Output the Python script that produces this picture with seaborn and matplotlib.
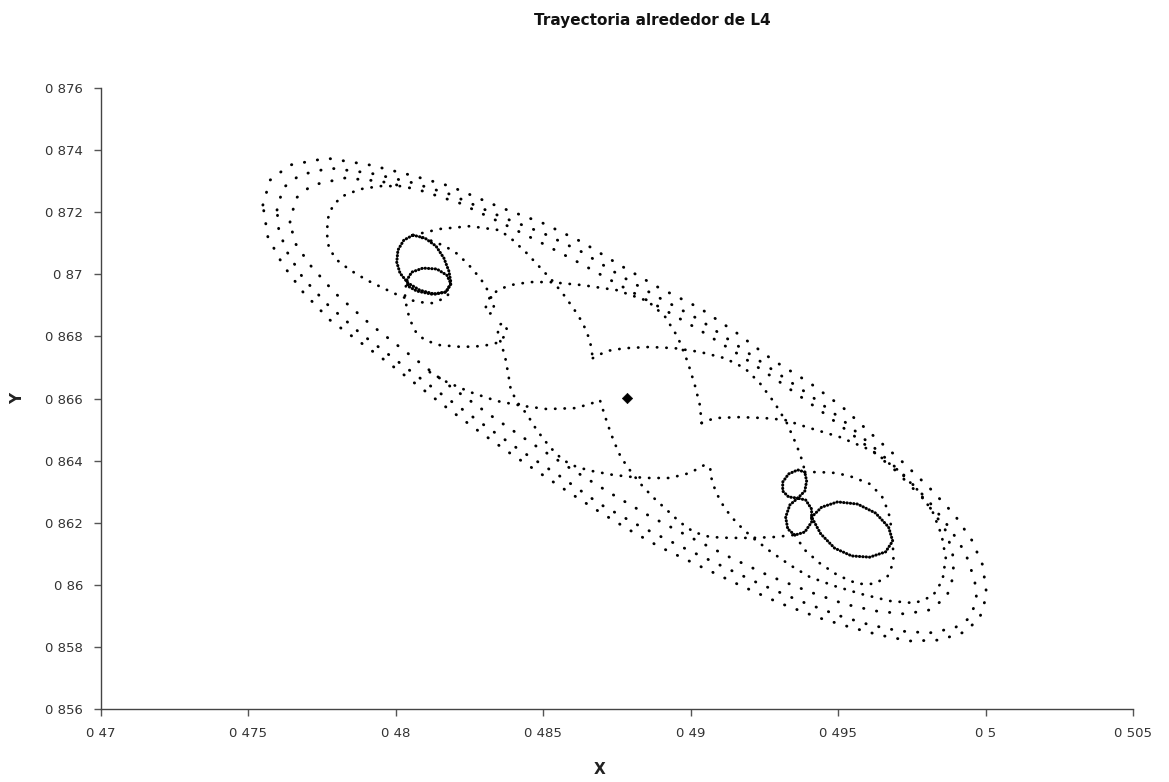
import matplotlib
matplotlib.use("Agg")
import matplotlib.pyplot as plt
import seaborn as sns

# ---------------- data (x, y in chart units) ----------------
e1_x = [0.47549, 0.47573, 0.47641, 0.47766, 0.47912, 0.48048, 0.48183, 0.48353, 0.48498, 0.48631,
        0.48759, 0.48888, 0.49031, 0.49156, 0.49278, 0.49404, 0.49515, 0.49624, 0.49719, 0.49810,
        0.49895, 0.49953, 0.49990, 0.50004, 0.49980, 0.49929, 0.49844, 0.49743, 0.49641, 0.49539,
        0.49437, 0.49302, 0.49166, 0.49031, 0.48895, 0.48793, 0.48692, 0.48590, 0.48488, 0.48387,
        0.48285, 0.48183, 0.48081, 0.47980, 0.47878, 0.47776, 0.47685, 0.47617, 0.47566, 0.47549]
e1_y = [0.87223, 0.87303, 0.87352, 0.87374, 0.87352, 0.87320, 0.87284, 0.87216, 0.87165, 0.87104,
        0.87030, 0.86959, 0.86891, 0.86811, 0.86724, 0.86650, 0.86572, 0.86476, 0.86395, 0.86312,
        0.86225, 0.86144, 0.86064, 0.85967, 0.85893, 0.85848, 0.85822, 0.85819, 0.85838, 0.85864,
        0.85893, 0.85941, 0.85999, 0.86060, 0.86122, 0.86176, 0.86234, 0.86296, 0.86360, 0.86424,
        0.86492, 0.86563, 0.86637, 0.86711, 0.86782, 0.86853, 0.86943, 0.87030, 0.87120, 0.87223]

e2_x = [0.47597, 0.47617, 0.47675, 0.47776, 0.47912, 0.48048, 0.48183, 0.48353, 0.48498, 0.48631,
        0.48759, 0.48888, 0.49031, 0.49156, 0.49278, 0.49404, 0.49515, 0.49624, 0.49719, 0.49804,
        0.49878, 0.49932, 0.49963, 0.49970, 0.49946, 0.49895, 0.49810, 0.49709, 0.49607, 0.49505,
        0.49370, 0.49234, 0.49098, 0.48963, 0.48827, 0.48692, 0.48556, 0.48420, 0.48285, 0.48149,
        0.48014, 0.47878, 0.47770, 0.47685, 0.47631, 0.47603, 0.47597]
e2_y = [0.87207, 0.87278, 0.87320, 0.87342, 0.87326, 0.87297, 0.87258, 0.87187, 0.87133, 0.87072,
        0.86997, 0.86927, 0.86853, 0.86772, 0.86692, 0.86611, 0.86531, 0.86440, 0.86357, 0.86273,
        0.86183, 0.86102, 0.86015, 0.85951, 0.85893, 0.85861, 0.85845, 0.85851, 0.85871, 0.85900,
        0.85948, 0.86003, 0.86064, 0.86125, 0.86189, 0.86260, 0.86350, 0.86434, 0.86524, 0.86618,
        0.86714, 0.86811, 0.86901, 0.86988, 0.87072, 0.87142, 0.87207]

e3_x = [0.47641, 0.47661, 0.47715, 0.47827, 0.47946, 0.48081, 0.48217, 0.48353, 0.48488, 0.48624,
        0.48759, 0.48895, 0.49031, 0.49166, 0.49302, 0.49437, 0.49573, 0.49692, 0.49793, 0.49861,
        0.49888, 0.49892, 0.49868, 0.49810, 0.49726, 0.49624, 0.49522, 0.49404, 0.49268, 0.49132,
        0.48997, 0.48861, 0.48726, 0.48590, 0.48454, 0.48319, 0.48183, 0.48048, 0.47912, 0.47793,
        0.47709, 0.47658, 0.47641]
e3_y = [0.87168, 0.87245, 0.87287, 0.87310, 0.87300, 0.87271, 0.87229, 0.87168, 0.87104, 0.87036,
        0.86965, 0.86894, 0.86820, 0.86740, 0.86653, 0.86563, 0.86466, 0.86370, 0.86273, 0.86183,
        0.86106, 0.86031, 0.85961, 0.85919, 0.85906, 0.85916, 0.85938, 0.85977, 0.86028, 0.86089,
        0.86154, 0.86221, 0.86296, 0.86376, 0.86460, 0.86547, 0.86640, 0.86740, 0.86840, 0.86940,
        0.87030, 0.87101, 0.87168]

arc_g_x = [0.48014, 0.47946, 0.47878, 0.47820, 0.47787, 0.47770, 0.47766, 0.47773, 0.47800, 0.47844,
           0.47902, 0.47956, 0.48014, 0.48071, 0.48126, 0.48173, 0.48190]
arc_g_y = [0.87284, 0.87284, 0.87274, 0.87252, 0.87223, 0.87181, 0.87133, 0.87084, 0.87046, 0.87014,
           0.86981, 0.86956, 0.86930, 0.86911, 0.86907, 0.86927, 0.86959]

loop_big_x = [0.48058, 0.48098, 0.48136, 0.48163, 0.48180, 0.48187, 0.48170, 0.48132, 0.48081, 0.48041,
              0.48014, 0.48003, 0.48007, 0.48027, 0.48058]
loop_big_y = [0.87126, 0.87117, 0.87091, 0.87052, 0.87010, 0.86972, 0.86943, 0.86936, 0.86949, 0.86972,
              0.87004, 0.87039, 0.87078, 0.87110, 0.87126]

loop_in_x = [0.48037, 0.48054, 0.48092, 0.48139, 0.48173, 0.48187, 0.48170, 0.48122, 0.48071, 0.48041, 0.48037]
loop_in_y = [0.86981, 0.87007, 0.87020, 0.87017, 0.86997, 0.86969, 0.86943, 0.86936, 0.86946, 0.86962, 0.86981]

exit_x = [0.48034, 0.48031, 0.48037, 0.48048, 0.48068, 0.48098, 0.48149, 0.48224, 0.48295, 0.48342,
          0.48366, 0.48376, 0.48366, 0.48349, 0.48346, 0.48356, 0.48370, 0.48380, 0.48390, 0.48414,
          0.48444, 0.48478, 0.48522, 0.48566, 0.48614, 0.48668, 0.48736, 0.48804, 0.48861, 0.48929,
          0.48997, 0.49041, 0.49065]
exit_y = [0.86962, 0.86930, 0.86891, 0.86853, 0.86814, 0.86788, 0.86772, 0.86766, 0.86769, 0.86779,
          0.86798, 0.86824, 0.86843, 0.86837, 0.86811, 0.86779, 0.86737, 0.86685, 0.86627, 0.86585,
          0.86550, 0.86498, 0.86444, 0.86402, 0.86379, 0.86366, 0.86354, 0.86347, 0.86344, 0.86344,
          0.86360, 0.86383, 0.86395]

ring_x = [0.49037, 0.49081, 0.49166, 0.49251, 0.49319, 0.49393, 0.49505, 0.49617, 0.49702, 0.49770,
          0.49821, 0.49851, 0.49865, 0.49854, 0.49821, 0.49760, 0.49675, 0.49580, 0.49488, 0.49404,
          0.49336, 0.49268, 0.49207, 0.49156, 0.49115, 0.49085, 0.49068, 0.49065]
ring_y = [0.86521, 0.86537, 0.86540, 0.86537, 0.86531, 0.86508, 0.86476, 0.86431, 0.86370, 0.86305,
          0.86234, 0.86160, 0.86086, 0.86015, 0.85964, 0.85941, 0.85948, 0.85970, 0.85996, 0.86025,
          0.86064, 0.86109, 0.86154, 0.86199, 0.86247, 0.86299, 0.86350, 0.86395]

path_i_x = [0.48058, 0.48115, 0.48166, 0.48210, 0.48251, 0.48288, 0.48315, 0.48332, 0.48332, 0.48315,
            0.48305, 0.48319, 0.48346, 0.48387, 0.48454, 0.48522, 0.48634, 0.48749, 0.48854, 0.48912,
            0.48956, 0.48990, 0.49014, 0.49031, 0.49037]
path_i_y = [0.87126, 0.87110, 0.87091, 0.87065, 0.87026, 0.86985, 0.86943, 0.86904, 0.86878, 0.86872,
            0.86894, 0.86927, 0.86949, 0.86965, 0.86975, 0.86975, 0.86965, 0.86949, 0.86914, 0.86865,
            0.86798, 0.86717, 0.86643, 0.86579, 0.86521]

path_j_x = [0.48058, 0.48149, 0.48251, 0.48353, 0.48397, 0.48444, 0.48488, 0.48532, 0.48570, 0.48604,
            0.48634, 0.48658, 0.48668]
path_j_y = [0.87126, 0.87146, 0.87155, 0.87142, 0.87110, 0.87068, 0.87023, 0.86978, 0.86933, 0.86888,
            0.86843, 0.86788, 0.86730]

path_h_x = [0.48668, 0.48715, 0.48776, 0.48861, 0.48946, 0.49031, 0.49115, 0.49183, 0.49234, 0.49285,
            0.49326, 0.49359, 0.49380, 0.49387]
path_h_y = [0.86730, 0.86753, 0.86762, 0.86766, 0.86762, 0.86750, 0.86730, 0.86698, 0.86650, 0.86585,
            0.86521, 0.86450, 0.86395, 0.86363]

path_c3_x = [0.48115, 0.48173, 0.48251, 0.48342, 0.48431, 0.48512, 0.48607, 0.48658, 0.48692, 0.48705,
             0.48719, 0.48739, 0.48763, 0.48793, 0.48827, 0.48871, 0.48919, 0.48963, 0.49010, 0.49065,
             0.49132, 0.49210, 0.49285, 0.49346]
path_c3_y = [0.86685, 0.86653, 0.86621, 0.86592, 0.86576, 0.86566, 0.86569, 0.86582, 0.86595, 0.86556,
             0.86515, 0.86463, 0.86411, 0.86370, 0.86328, 0.86283, 0.86241, 0.86202, 0.86170, 0.86154,
             0.86151, 0.86151, 0.86154, 0.86160]

loop_a_x = [0.49387, 0.49363, 0.49332, 0.49312, 0.49312, 0.49332, 0.49363, 0.49387, 0.49393, 0.49387]
loop_a_y = [0.86363, 0.86370, 0.86357, 0.86331, 0.86302, 0.86283, 0.86279, 0.86302, 0.86334, 0.86363]

loop_b_x = [0.49363, 0.49336, 0.49322, 0.49329, 0.49353, 0.49387, 0.49410, 0.49410, 0.49390, 0.49363]
loop_b_y = [0.86279, 0.86257, 0.86218, 0.86180, 0.86160, 0.86170, 0.86202, 0.86244, 0.86273, 0.86279]

loop_c_x = [0.49410, 0.49444, 0.49498, 0.49566, 0.49627, 0.49671, 0.49685, 0.49661, 0.49607, 0.49546,
            0.49488, 0.49441, 0.49410]
loop_c_y = [0.86218, 0.86250, 0.86267, 0.86260, 0.86231, 0.86186, 0.86141, 0.86106, 0.86089, 0.86093,
            0.86118, 0.86164, 0.86218]

lobe_x = [0.49353, 0.49387, 0.49437, 0.49498, 0.49566, 0.49624, 0.49668, 0.49688, 0.49685]
lobe_y = [0.86160, 0.86112, 0.86070, 0.86031, 0.86003, 0.86003, 0.86028, 0.86073, 0.86141]

bridge_x = [0.49387, 0.49437, 0.49495, 0.49549, 0.49607, 0.49648, 0.49671, 0.49682]
bridge_y = [0.86363, 0.86363, 0.86360, 0.86347, 0.86325, 0.86286, 0.86234, 0.86176]

l4_x = [0.48785]
l4_y = [0.86603]

x_ticks = [0.47, 0.475, 0.48, 0.485, 0.49, 0.495, 0.50, 0.505]
x_tick_labels = ["0 47", "0 475", "0 48", "0 485", "0 49", "0 495", "0 5", "0 505"]
y_ticks = [0.856, 0.858, 0.860, 0.862, 0.864, 0.866, 0.868, 0.870, 0.872, 0.874, 0.876]
y_tick_labels = ["0 856", "0 858", "0 86", "0 862", "0 864", "0 866", "0 868", "0 87", "0 872", "0 874", "0 876"]

title_text = "Trayectoria alrededor de L4"
x_label = "X"
y_label = "Y"

# ---------------- drawing ----------------
sns.set_style("ticks")
plt.rcParams["font.family"] = ["DejaVu Sans"]

fig = plt.figure(figsize=(11.69, 7.82), dpi=100)
ax = fig.add_axes([101 / 1169, 73 / 782, 1032 / 1169, 621 / 782])

sparse = (0, (0.1, 4.4))
medium = (0, (0.1, 3.3))
dense = (0, (0.1, 1.0))

segments = [
    (e1_x, e1_y, sparse, 2.1), (e2_x, e2_y, sparse, 2.1), (e3_x, e3_y, sparse, 2.1),
    (arc_g_x, arc_g_y, medium, 2.0), (ring_x, ring_y, medium, 2.0),
    (path_i_x, path_i_y, medium, 2.0), (path_j_x, path_j_y, medium, 2.0),
    (path_h_x, path_h_y, medium, 2.0), (path_c3_x, path_c3_y, medium, 2.0),
    (bridge_x, bridge_y, medium, 2.0), (exit_x, exit_y, medium, 2.0),
    (loop_big_x, loop_big_y, dense, 2.2), (loop_in_x, loop_in_y, dense, 2.2),
    (loop_a_x, loop_a_y, dense, 2.2), (loop_b_x, loop_b_y, dense, 2.2),
    (loop_c_x, loop_c_y, dense, 2.2), (lobe_x, lobe_y, medium, 2.0),
]
for xs, ys, ls, lw in segments:
    sns.lineplot(x=xs, y=ys, sort=False, estimator=None, ax=ax, color="black",
                 linewidth=lw, linestyle=ls, dash_capstyle="round")

sns.scatterplot(x=l4_x, y=l4_y, marker="D", s=28, color="black", edgecolor="black", ax=ax, zorder=5)

ax.set_xlim(0.47, 0.505)
ax.set_ylim(0.856, 0.876)
ax.set_xticks(x_ticks)
ax.set_xticklabels(x_tick_labels)
ax.set_yticks(y_ticks)
ax.set_yticklabels(y_tick_labels)
ax.tick_params(axis="both", direction="out", length=5, width=1, color="#555555",
               labelsize=9.5, labelcolor="#333333", pad=8)
for side in ("top", "right"):
    ax.spines[side].set_visible(False)
for side in ("left", "bottom"):
    ax.spines[side].set_color("#444444")
    ax.spines[side].set_linewidth(1.0)
ax.set_xlabel("")
ax.set_ylabel("")

fig.text(652 / 1169, 1 - 20 / 782, title_text, ha="center", va="center",
         fontsize=11, fontweight="bold", color="#111111")
fig.text(600 / 1169, 1 - 770 / 782, x_label, ha="center", va="center",
         fontsize=11, fontweight="bold", color="#222222")
fig.text(18 / 1169, 1 - 398 / 782, y_label, ha="center", va="center", rotation=90,
         fontsize=11, fontweight="bold", color="#222222")

fig.savefig("out.png", dpi=100, facecolor="white")
